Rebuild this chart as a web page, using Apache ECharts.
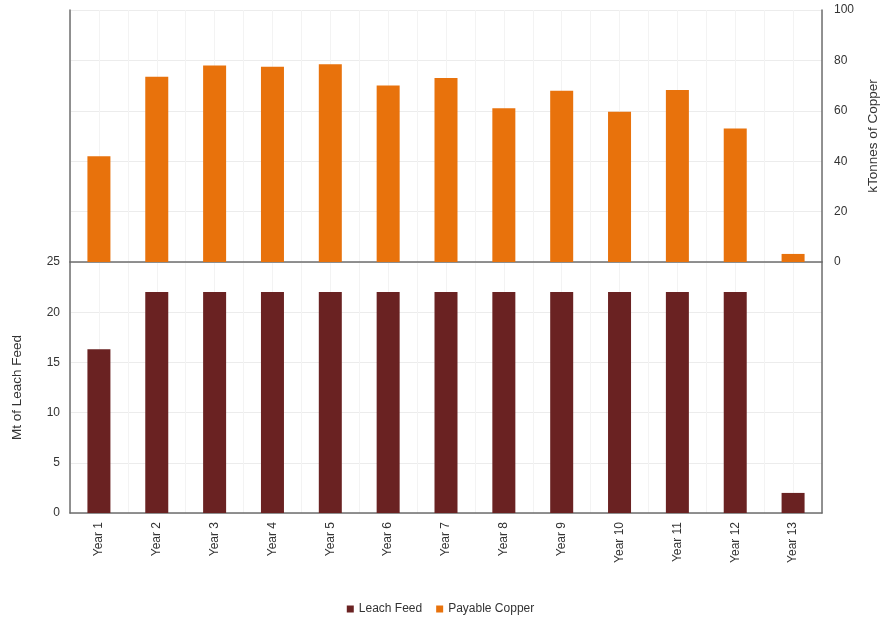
<!DOCTYPE html>
<html>
<head>
<meta charset="utf-8">
<script src="https://cdn.jsdelivr.net/npm/echarts@6/dist/echarts.min.js"></script>
<style>html,body{margin:0;padding:0;background:#fff;}#c{width:881px;height:621px;}</style>
</head>
<body>
<div id="c"></div>
<script>
var categories = ["Year 1","Year 2","Year 3","Year 4","Year 5","Year 6","Year 7","Year 8","Year 9","Year 10","Year 11","Year 12","Year 13"];
var leachFeed = [16.3, 22, 22, 22, 22, 22, 22, 22, 22, 22, 22, 22, 2];
var payableCopper = [42, 73.5, 78, 77.5, 78.5, 70, 73, 61, 68, 59.6, 68.3, 53, 3.2];
var copperTicks = [0, 20, 40, 60, 80, 100];
var leachTicks = [0, 5, 10, 15, 20, 25];

var chart = echarts.init(document.getElementById('c'));
var axisDark = {show: true, onZero: false, lineStyle: {color: '#6e6e6e', width: 1.5}};
var faint = {show: true, lineStyle: {color: '#ececec', width: 1}};
var faintV = {show: true, lineStyle: {color: '#f3f3f3', width: 1}};
var font = 'Arial, "Liberation Sans", sans-serif';
chart.setOption({
  animation: false,
  textStyle: {fontFamily: font},
  legend: {
    bottom: 1, left: 'center',
    icon: 'rect', itemWidth: 7, itemHeight: 7, itemGap: 14,
    textStyle: {fontSize: 12, color: '#333', fontFamily: font},
    data: ['Leach Feed', 'Payable Copper']
  },
  grid: [
    {left: 70, right: 59, top: 10, height: 252, outerBoundsMode: 'none', containLabel: false},
    {left: 70, right: 59, top: 262, height: 251, outerBoundsMode: 'none', containLabel: false}
  ],
  xAxis: [
    {type: 'category', gridIndex: 0, data: categories, axisLine: axisDark, axisTick: {show: false}, axisLabel: {show: false}, splitLine: faintV},
    {type: 'category', gridIndex: 1, data: categories, axisLine: axisDark, axisTick: {show: false}, splitLine: faintV,
      axisLabel: {rotate: 90, fontSize: 12, color: '#333', margin: 9, interval: 0, fontFamily: font}},
    {type: 'value', gridIndex: 0, min: 0, max: 26, interval: 1, axisLine: {show: false}, axisTick: {show: false}, axisLabel: {show: false}, splitLine: faintV},
    {type: 'value', gridIndex: 1, min: 0, max: 26, interval: 1, axisLine: {show: false}, axisTick: {show: false}, axisLabel: {show: false}, splitLine: faintV}
  ],
  yAxis: [
    {type: 'value', gridIndex: 0, position: 'right', min: copperTicks[0], max: copperTicks[copperTicks.length-1], interval: 20,
      name: 'kTonnes of Copper', nameLocation: 'middle', nameGap: 44, nameRotate: 90,
      nameTextStyle: {fontSize: 13.5, color: '#333', fontFamily: font},
      axisLine: axisDark, axisTick: {show: false},
      axisLabel: {fontSize: 12, color: '#333', margin: 12, fontFamily: font},
      splitLine: faint},
    {type: 'value', gridIndex: 0, position: 'left', min: 0, max: 100, interval: 20,
      axisLine: axisDark, axisTick: {show: false}, axisLabel: {show: false}, splitLine: {show: false}},
    {type: 'value', gridIndex: 1, position: 'left', min: leachTicks[0], max: leachTicks[leachTicks.length-1], interval: 5,
      name: 'Mt of Leach Feed', nameLocation: 'middle', nameGap: 46, nameRotate: 90,
      nameTextStyle: {fontSize: 13.5, color: '#333', fontFamily: font},
      axisLine: axisDark, axisTick: {show: false},
      axisLabel: {fontSize: 12, color: '#333', margin: 10, fontFamily: font},
      splitLine: faint},
    {type: 'value', gridIndex: 1, position: 'right', min: 0, max: 25, interval: 5,
      axisLine: axisDark, axisTick: {show: false}, axisLabel: {show: false}, splitLine: {show: false}}
  ],
  series: [
    {name: 'Leach Feed', type: 'bar', xAxisIndex: 1, yAxisIndex: 2, data: leachFeed, barWidth: 23, itemStyle: {color: '#6a2222'}},
    {name: 'Payable Copper', type: 'bar', xAxisIndex: 0, yAxisIndex: 0, data: payableCopper, barWidth: 23, itemStyle: {color: '#e8720c'}}
  ]
});
</script>
</body>
</html>
